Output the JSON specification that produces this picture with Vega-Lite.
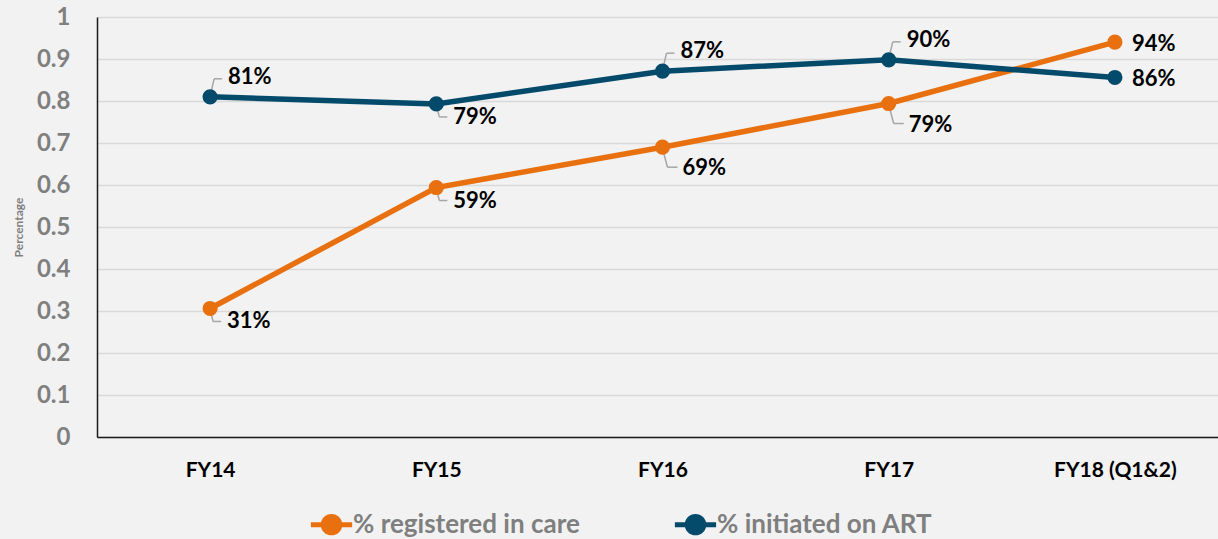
{
  "$schema": "https://vega.github.io/schema/vega-lite/v6.json",
  "autosize": {"type": "none"},
  "padding": {"left": 97, "top": 17, "right": 0, "bottom": 102},
  "width": 1131,
  "height": 420,
  "background": "#f2f2f2",
  "config": {
    "view": {"stroke": null},
    "font": "Lato"
  },
  "data": {
    "values": [
      {"year": "FY14", "series": "% registered in care", "value": 0.306},
      {"year": "FY15", "series": "% registered in care", "value": 0.594},
      {"year": "FY16", "series": "% registered in care", "value": 0.69},
      {"year": "FY17", "series": "% registered in care", "value": 0.794},
      {"year": "FY18 (Q1&2)", "series": "% registered in care", "value": 0.94},
      {"year": "FY14", "series": "% initiated on ART", "value": 0.81},
      {"year": "FY15", "series": "% initiated on ART", "value": 0.793},
      {"year": "FY16", "series": "% initiated on ART", "value": 0.871},
      {"year": "FY17", "series": "% initiated on ART", "value": 0.898},
      {"year": "FY18 (Q1&2)", "series": "% initiated on ART", "value": 0.856}
    ]
  },
  "encoding": {
    "x": {
      "field": "year", "type": "nominal",
      "scale": {"type": "point", "padding": 0.5, "domain": ["FY14", "FY15", "FY16", "FY17", "FY18 (Q1&2)"]},
      "axis": {
        "title": null, "labelAngle": 0, "labelFontSize": 21, "labelFontWeight": "bold",
        "labelColor": "#000000", "labelPadding": 22, "ticks": false,
        "domainColor": "#1a1a1a", "domainWidth": 1.5, "grid": false
      }
    },
    "y": {
      "field": "value", "type": "quantitative",
      "scale": {"domain": [0, 1], "nice": false},
      "axis": {
        "title": "Percentage", "titleFontSize": 12, "titleColor": "#7f7f7f", "titleFontWeight": "bold",
        "titlePadding": 11,
        "values": [0, 0.1, 0.2, 0.3, 0.4, 0.5, 0.6, 0.7, 0.8, 0.9, 1],
        "format": "~g", "labelFontSize": 24, "labelFontWeight": "bold", "labelColor": "#7f7f7f",
        "labelPadding": 27, "ticks": false,
        "domainColor": "#1a1a1a", "domainWidth": 1.5,
        "gridColor": "#d9d9d9", "gridWidth": 1.5
      }
    },
    "color": {
      "field": "series", "type": "nominal", "sort": ["% registered in care", "% initiated on ART"],
      "scale": {"domain": ["% registered in care", "% initiated on ART"], "range": ["#e8700f", "#034a6b"]},
      "legend": {
        "title": null, "orient": "none", "legendX": 211, "legendY": 484,
        "direction": "horizontal",
        "symbolType": "M-1,0H1M-0.4,0A0.4,0.4 0 1,1 0.4,0A0.4,0.4 0 1,1 -0.4,0Z",
        "symbolSize": 1700, "symbolStrokeWidth": 5,
        "labelFontSize": 26, "labelColor": "#7f7f7f", "labelFontWeight": "bold",
        "labelOffset": -2, "columnPadding": 84, "labelLimit": 400,
        "encode": {
          "symbols": {"update": {
            "fill": {"scale": "color", "field": "value"},
            "stroke": {"scale": "color", "field": "value"},
            "strokeWidth": {"value": 5},
            "opacity": {"value": 1}
          }}
        }
      }
    }
  },
  "layer": [
    {
      "transform": [{"filter": "(datum.series == '% initiated on ART' && (datum.year == 'FY14' || datum.year == 'FY16' || datum.year == 'FY17'))"}],
      "mark": {"type": "rule", "strokeWidth": 1.5, "xOffset": 1, "yOffset": -5, "x2Offset": 4, "y2Offset": -18},
      "encoding": {"x2": {"field": "year"}, "y2": {"field": "value"}, "color": {"value": "#a6a6a6"}}
    },
    {
      "transform": [{"filter": "(datum.series == '% initiated on ART' && (datum.year == 'FY14' || datum.year == 'FY16' || datum.year == 'FY17'))"}],
      "mark": {"type": "rule", "strokeWidth": 1.5, "xOffset": 4, "yOffset": -18, "x2Offset": 12, "y2Offset": -18},
      "encoding": {"x2": {"field": "year"}, "y2": {"field": "value"}, "color": {"value": "#a6a6a6"}}
    },
    {
      "transform": [{"filter": "(datum.series == '% initiated on ART' && datum.year == 'FY15') || (datum.series == '% registered in care' && (datum.year == 'FY14' || datum.year == 'FY15'))"}],
      "mark": {"type": "rule", "strokeWidth": 1.5, "xOffset": 1, "yOffset": 5, "x2Offset": 3, "y2Offset": 13},
      "encoding": {"x2": {"field": "year"}, "y2": {"field": "value"}, "color": {"value": "#a6a6a6"}}
    },
    {
      "transform": [{"filter": "(datum.series == '% initiated on ART' && datum.year == 'FY15') || (datum.series == '% registered in care' && (datum.year == 'FY14' || datum.year == 'FY15'))"}],
      "mark": {"type": "rule", "strokeWidth": 1.5, "xOffset": 3, "yOffset": 13, "x2Offset": 11, "y2Offset": 13},
      "encoding": {"x2": {"field": "year"}, "y2": {"field": "value"}, "color": {"value": "#a6a6a6"}}
    },
    {
      "transform": [{"filter": "datum.series == '% registered in care' && (datum.year == 'FY16' || datum.year == 'FY17')"}],
      "mark": {"type": "rule", "strokeWidth": 1.5, "xOffset": 1, "yOffset": 5, "x2Offset": 5, "y2Offset": 20},
      "encoding": {"x2": {"field": "year"}, "y2": {"field": "value"}, "color": {"value": "#a6a6a6"}}
    },
    {
      "transform": [{"filter": "datum.series == '% registered in care' && (datum.year == 'FY16' || datum.year == 'FY17')"}],
      "mark": {"type": "rule", "strokeWidth": 1.5, "xOffset": 5, "yOffset": 20, "x2Offset": 15, "y2Offset": 20},
      "encoding": {"x2": {"field": "year"}, "y2": {"field": "value"}, "color": {"value": "#a6a6a6"}}
    },
    {"mark": {"type": "line", "strokeWidth": 5.5}},
    {"mark": {"type": "point", "filled": true, "size": 230, "opacity": 1}},
    {
      "transform": [{"filter": "(datum.series == '% initiated on ART' && (datum.year == 'FY14' || datum.year == 'FY16' || datum.year == 'FY17'))"}],
      "mark": {"type": "text", "align": "left", "baseline": "middle", "dx": 18, "dy": -20, "fontSize": 22, "fontWeight": "bold", "color": "#000000"},
      "encoding": {"text": {"field": "value", "type": "quantitative", "format": ".0%"}, "color": {"value": "#000000"}}
    },
    {
      "transform": [{"filter": "(datum.series == '% initiated on ART' && datum.year == 'FY15') || (datum.series == '% registered in care' && (datum.year == 'FY14' || datum.year == 'FY15'))"}],
      "mark": {"type": "text", "align": "left", "baseline": "middle", "dx": 17, "dy": 13, "fontSize": 22, "fontWeight": "bold", "color": "#000000"},
      "encoding": {"text": {"field": "value", "type": "quantitative", "format": ".0%"}, "color": {"value": "#000000"}}
    },
    {
      "transform": [{"filter": "datum.series == '% registered in care' && (datum.year == 'FY16' || datum.year == 'FY17')"}],
      "mark": {"type": "text", "align": "left", "baseline": "middle", "dx": 20, "dy": 21, "fontSize": 22, "fontWeight": "bold", "color": "#000000"},
      "encoding": {"text": {"field": "value", "type": "quantitative", "format": ".0%"}, "color": {"value": "#000000"}}
    },
    {
      "transform": [{"filter": "datum.year == 'FY18 (Q1&2)'"}],
      "mark": {"type": "text", "align": "left", "baseline": "middle", "dx": 17, "dy": 2, "fontSize": 22, "fontWeight": "bold", "color": "#000000"},
      "encoding": {"text": {"field": "value", "type": "quantitative", "format": ".0%"}, "color": {"value": "#000000"}}
    }
  ]
}
